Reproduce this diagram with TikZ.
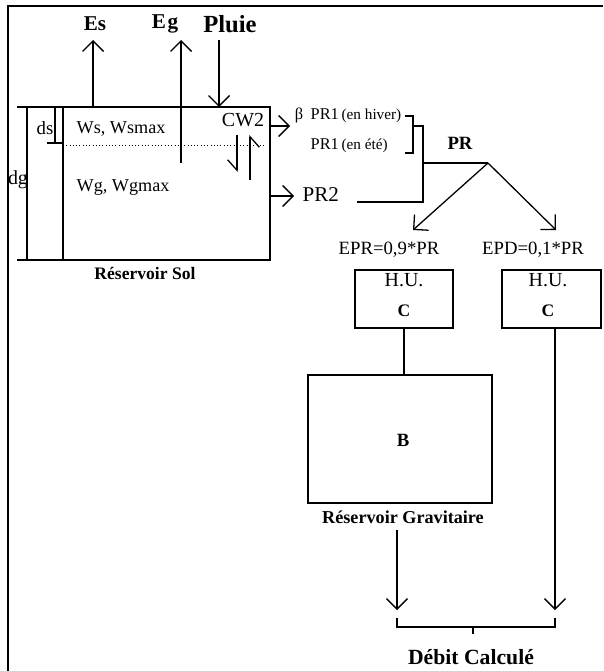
\documentclass[tikz,border=0pt]{standalone}
\usepackage{fontspec}
\setmainfont{Liberation Serif}
\usetikzlibrary{arrows.meta,calc}
\newcommand{\fsz}[1]{\fontsize{#1}{#1}\selectfont}
\begin{document}
\begin{tikzpicture}[x=0.03cm,y=-0.03cm, line width=1.1pt,
  ar/.style={-{Straight Barb[length=9pt,width=18pt,line width=1.1pt]}},
  hp/.style={-{Straight Barb[length=9pt,width=16pt,harpoon,swap,line width=1.1pt]}},
  lab/.style={inner sep=0pt, font=\fsz{15}},
  blab/.style={inner sep=0pt, font=\fsz{15}\bfseries},
  box/.style={draw, inner sep=0pt}]
\useasboundingbox (0,0) rectangle (603,671);
% frame
\draw (8,671) -- (8,6) -- (603,6);

% top labels
\node[blab, font=\fsz{18}\bfseries] (es) at (95,24) {Es};
\node[blab, font=\fsz{18}\bfseries] (eg) at (165,24) {E\kern1.5pt g};
\node[blab, font=\fsz{21}\bfseries] (pluie) at (230,24) {Pluie};
\coordinate (esb) at (93,107);  \coordinate (est) at (93,40);
\coordinate (egb) at (181,163); \coordinate (egt) at (181,40);
\coordinate (plt) at (219,40);  \coordinate (plb) at (219,107);
\draw[ar] (esb) -- (est);
\draw[ar] (egb) -- (egt);
\draw[ar] (plt) -- (plb);

% soil reservoir
\draw (17,107) -- (270,107) -- (270,260) -- (17,260);
\draw (63,107) -- (63,260);
\draw (27,107) -- (27,260);
\draw (55,107) -- (55,143);
\draw (47,143) -- (63,143);
\draw[dotted, line width=0.8pt] (63,145) -- (266,145);
\node[lab, font=\fsz{17}] (dg) at (18,180) {dg};
\node[lab, font=\fsz{16}] (ds) at (45,128) {ds};
\node[lab, font=\fsz{15.5}, anchor=west] (ws) at (76,129) {Ws, Wsmax};
\node[lab, font=\fsz{15.5}, anchor=west] (wg) at (76,188) {Wg, Wgmax};
\node[lab, font=\fsz{17}] (cw2) at (243,120) {CW2};
\coordinate (d1) at (237,135); \coordinate (d2) at (237,172);
\coordinate (u1) at (250,180); \coordinate (u2) at (250,135);
\draw[hp] (d1) -- (d2);
\draw[hp] (u1) -- (u2);
\node[blab] (rsol) at (145,273) {Réservoir Sol};

% outflows
\coordinate (ba) at (270,126); \coordinate (bb) at (290,126);
\draw[ar] (ba) -- (bb);
\node[lab, font=\fsz{14}] (beta) at (299,115) {β};
\node[lab, font=\fsz{14}, anchor=west] (pr1h) at (310,116) {PR1\,{\fsz{13}(en hiver)}};
\node[lab, font=\fsz{14}, anchor=west] (pr1e) at (310,146) {PR1\,{\fsz{13}(en été)}};
\coordinate (p2a) at (270,196); \coordinate (p2b) at (294,196);
\draw[ar] (p2a) -- (p2b);
\node[lab, font=\fsz{18}, anchor=west] (pr2) at (302,195) {PR2};
\draw (405,116) -- (413,116) -- (413,153) -- (405,153);
\draw (413,126) -- (423,126) -- (423,202) -- (357,202);
\coordinate (prj) at (488,163);
\draw (423,163) -- (prj);
\node[blab, font=\fsz{16}\bfseries] (pr) at (460,143) {PR};
\coordinate (al) at (413,230); \coordinate (arr) at (556,230);
\draw[ar] (prj) -- (al);
\draw[ar] (prj) -- (arr);

% unit hydrographs
\node[lab, font=\fsz{16}] (epr) at (389,250) {EPR=0,9*PR};
\node[lab, font=\fsz{16}] (epd) at (533,250) {EPD=0,1*PR};
\node[box, minimum width=2.94cm, minimum height=1.74cm] (hu1) at (404,299) {};
\node[box, minimum width=2.97cm, minimum height=1.74cm] (hu2) at (551.5,299) {};
\node[lab, font=\fsz{17}] (hu1t) at (404,280) {H.U.};
\node[blab, font=\fsz{15}\bfseries] (hu1c) at (404,311) {C};
\node[lab, font=\fsz{17}] (hu2t) at (548,280) {H.U.};
\node[blab, font=\fsz{15}\bfseries] (hu2c) at (548,311) {C};

% gravity reservoir
\node[box, minimum width=5.52cm, minimum height=3.84cm] (rb) at (400,439) {};
\node[blab, font=\fsz{16}\bfseries] (bl) at (403,440) {B};
\node[blab, font=\fsz{15.5}\bfseries] (rgrav) at (403,517) {Réservoir Gravitaire};
\draw (hu1.south) -- (hu1.south |- rb.north);
\coordinate (ga) at (397,530); \coordinate (gb) at (397,610);
\draw[ar] (ga) -- (gb);
\coordinate (ra) at ($(hu2.south)+(3.5,0)$); \coordinate (rbt) at (555,610);
\draw[ar] (ra) -- (rbt);

% sum
\coordinate (s1) at (397,618); \coordinate (s2) at (555,618);
\coordinate (sm) at (473,627);
\draw (s1) -- (s1 |- sm) -- (s2 |- sm) -- (s2);
\draw (sm) -- ++(0,7);
\node[blab, font=\fsz{18.5}\bfseries] (debit) at (471,657) {Débit Calculé};
\end{tikzpicture}
\end{document}
